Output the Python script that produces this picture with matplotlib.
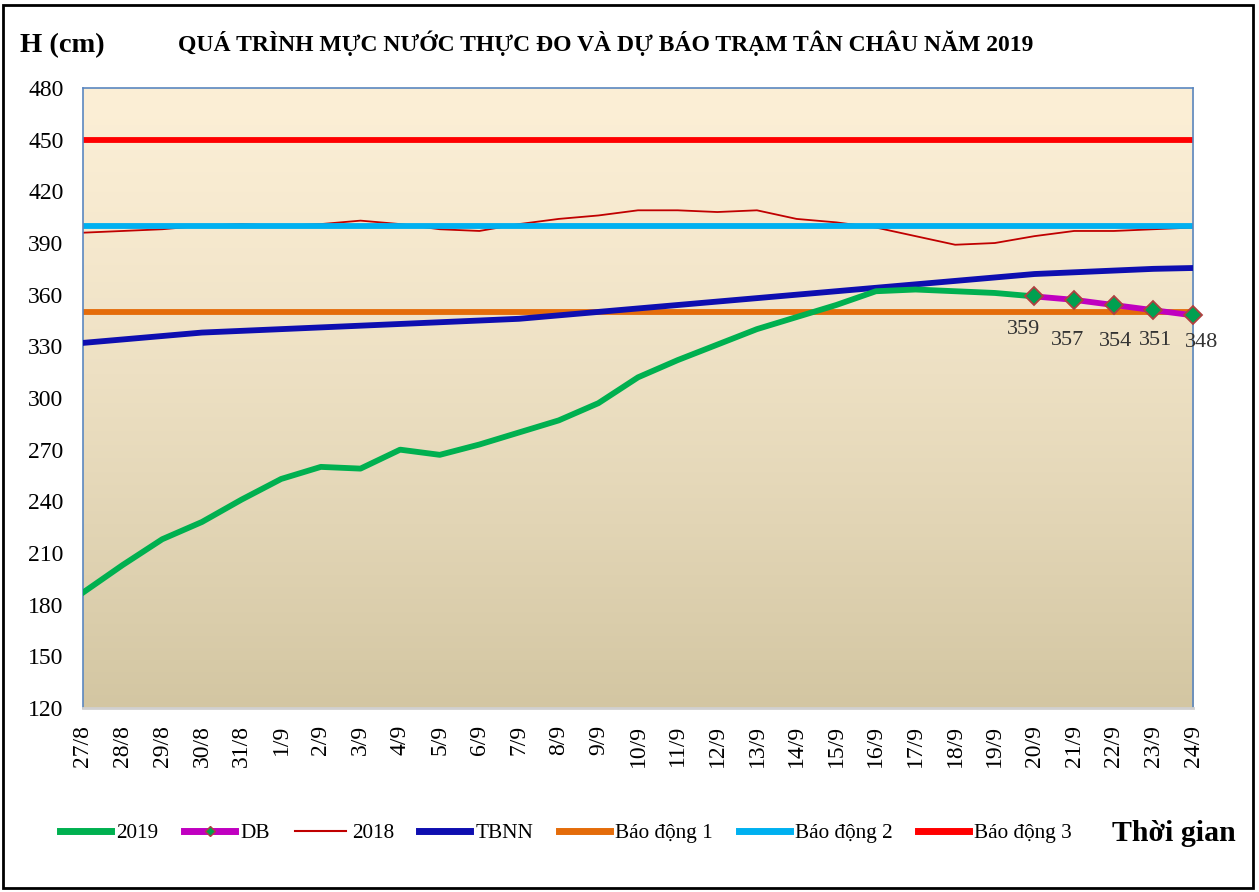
"""Tan Chau water level chart, 2019."""

import numpy as np
import matplotlib

matplotlib.use("Agg")
import matplotlib.pyplot as plt
from matplotlib.patches import Rectangle

days = [
    "27/8", "28/8", "29/8", "30/8", "31/8", "1/9", "2/9", "3/9", "4/9", "5/9",
    "6/9", "7/9", "8/9", "9/9", "10/9", "11/9", "12/9", "13/9", "14/9", "15/9",
    "16/9", "17/9", "18/9", "19/9", "20/9", "21/9", "22/9", "23/9", "24/9",
]
h2019 = [187, 203, 218, 228, 241, 253, 260, 259, 270, 267, 273, 280, 287, 297,
         312, 322, 331, 340, 347, 354, 362, 363, 362, 361, 359]
forecast_days = ["20/9", "21/9", "22/9", "23/9", "24/9"]
forecast = [359, 357, 354, 351, 348]
h2018 = [396, 397, 398, 400, 401, 400, 401, 403, 401, 398, 397, 401, 404, 406,
         409, 409, 408, 409, 404, 402, 399, 394, 389, 390, 394, 397, 397, 398, 399]
tbnn = [332, 334, 336, 338, 339, 340, 341, 342, 343, 344, 345, 346, 348, 350,
        352, 354, 356, 358, 360, 362, 364, 366, 368, 370, 372, 373, 374, 375, 375.5]
alarm1, alarm2, alarm3 = 350, 400, 450

plt.rcParams["font.family"] = ["Liberation Serif", "DejaVu Serif"]

fig = plt.figure(figsize=(12.59, 8.92), dpi=100)
ax = fig.add_axes([0.0659, 0.2063, 0.8817, 0.695])

x = np.arange(len(days))
xf = np.array([days.index(d) for d in forecast_days])

# background gradient
grad = np.linspace(0, 1, 256).reshape(-1, 1)
top = np.array([252, 239, 214]) / 255
bot = np.array([211, 198, 162]) / 255
img = top + (bot - top) * grad[..., None] ** 1.3
img = img.reshape(256, 1, 3)
ax.imshow(img, aspect="auto", extent=(0, len(days) - 1, 120, 480), origin="upper", zorder=0)

lw_thick = 4.2
ax.axhline(alarm3, color="#FF0000", lw=lw_thick, zorder=2)
ax.axhline(alarm2, color="#00B0F0", lw=lw_thick, zorder=2)
ax.plot(x, h2018, color="#C00000", lw=1.3, zorder=1.5)
ax.axhline(alarm1, color="#E46C0A", lw=lw_thick, zorder=2)
ax.plot(x, tbnn, color="#0E0EB0", lw=lw_thick, zorder=3)
ax.plot(x[:len(h2019)], h2019, color="#00B050", lw=lw_thick, zorder=4)
ax.plot(xf, forecast, color="#C000C0", lw=lw_thick, zorder=5, clip_on=False,
        marker="D", markersize=9, markerfacecolor="#00A050",
        markeredgecolor="#B04040", markeredgewidth=1.3)

offsets = [(-8, -24), (-4.5, -29), (1.5, -26.5), (1.5, -22), (6.5, -19.5)]
for xi, v, off in zip(xf, forecast, offsets):
    ax.annotate(str(v), (xi, v), xytext=off, textcoords="offset points",
                ha="center", va="center", fontsize=16, color="#333333", zorder=6,
                annotation_clip=False)

ax.set_xlim(0, len(days) - 1)
ax.set_ylim(120, 480)
ax.set_yticks(np.arange(120, 481, 30))
ax.set_xticks(x)
ax.set_xticklabels(days, rotation=90, fontsize=17)
ax.tick_params(axis="y", labelsize=17, length=0, pad=14)
ax.tick_params(axis="x", length=0, pad=12)
for side in ("left", "right", "top"):
    ax.spines[side].set_color("#5B87C0")
    ax.spines[side].set_linewidth(1.2)
ax.spines["bottom"].set_color("#D0D0D0")
ax.spines["bottom"].set_linewidth(2)

fig.text(0.016, 0.949, "H (cm)", fontsize=20.5, fontweight="bold", va="center", ha="left")
fig.text(0.481, 0.951, "QUÁ TRÌNH MỰC NƯỚC THỰC ĐO VÀ DỰ BÁO TRẠM TÂN CHÂU NĂM 2019",
         fontsize=17, fontweight="bold", va="center", ha="center")
fig.text(0.883, 0.066, "Thời gian", fontsize=21.5, fontweight="bold", va="center", ha="left")

handles = [
    plt.Line2D([], [], color="#00B050", lw=5),
    plt.Line2D([], [], color="#C000C0", lw=5, marker="D", markersize=5,
               markerfacecolor="#00A050", markeredgecolor="#B04040"),
    plt.Line2D([], [], color="#C00000", lw=1.5),
    plt.Line2D([], [], color="#0E0EB0", lw=5),
    plt.Line2D([], [], color="#E46C0A", lw=5),
    plt.Line2D([], [], color="#00B0F0", lw=5),
    plt.Line2D([], [], color="#FF0000", lw=5),
]
labels = ["2019", "DB", "2018", "TBNN", "Báo động 1", "Báo động 2", "Báo động 3"]
fig.legend(handles, labels, loc="center", bbox_to_anchor=(0.4496, 0.066), ncol=7,
           frameon=False, fontsize=15.3, handlelength=2.4, handletextpad=0.25,
           columnspacing=1.2)

fig.patches.append(Rectangle((0.002, 0.004), 0.993, 0.99, transform=fig.transFigure,
                             fill=False, edgecolor="black", lw=2))

fig.savefig("out.png", dpi=100)
